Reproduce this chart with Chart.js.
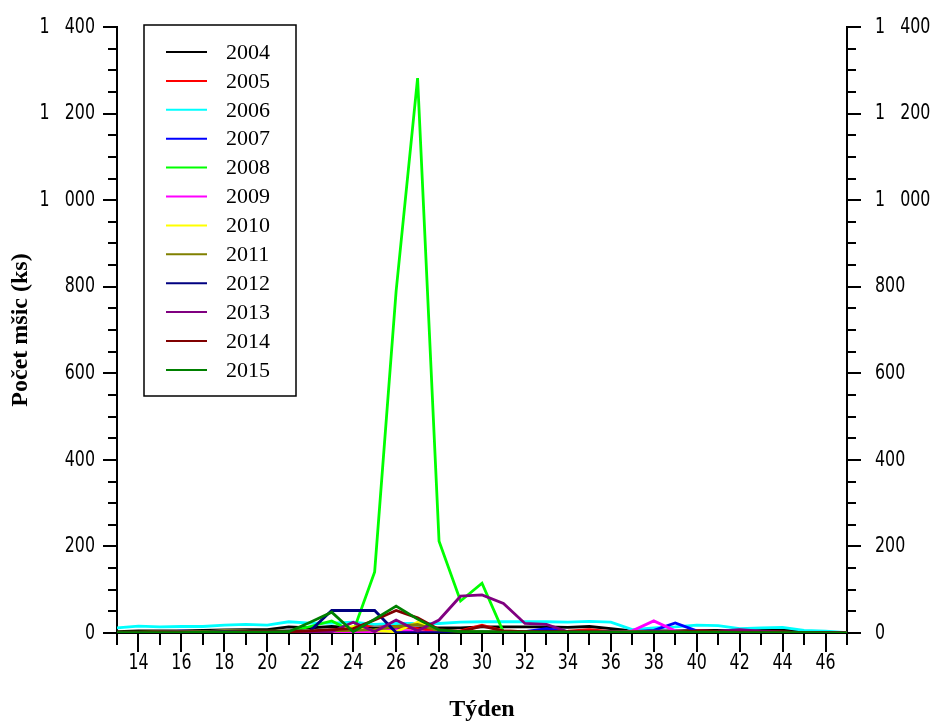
<!DOCTYPE html>
<html>
<head>
<meta charset="utf-8">
<title>Počet mšic</title>
<script src="https://cdn.jsdelivr.net/npm/chart.js@4.4.1/dist/chart.umd.min.js"></script>
<style>
  body { margin: 0; background: #fff; }
  canvas { display: block; }
</style>
</head>
<body>
<canvas id="myChart" width="931" height="724"></canvas>
<script>
// weeks 13..47
var weeks = [13,14,15,16,17,18,19,20,21,22,23,24,25,26,27,28,29,30,31,32,33,34,35,36,37,38,39,40,41,42,43,44,45,46,47];

var years = ["2004","2005","2006","2007","2008","2009","2010","2011","2012","2013","2014","2015"];
var colors = ["#000000","#ff0000","#00ffff","#0000ff","#00ff00","#ff00ff","#ffff00","#808000","#000080","#800080","#800000","#008000"];

var y2004 = [3,5,5,5,6,7,8,8,14,12,15,12,12,12,12,12,12,14,14,14,14,13,15,10,5,5,5,6,6,5,6,7,3,1,0];
var y2005 = [1,1,2,2,2,3,3,2,3,3,4,8,20,15,10,4,5,18,5,3,3,4,8,3,2,4,2,6,3,2,3,2,1,1,0];
var y2006 = [12,16,14,15,15,18,20,18,26,23,23,25,20,22,22,22,25,26,26,26,26,25,27,25,8,12,14,18,17,10,12,13,6,4,1];
var y2007 = [1,1,2,4,3,5,4,3,4,3,2,2,3,2,2,1,1,2,2,3,10,3,2,2,3,6,23,5,3,2,2,1,1,0,0];
var y2008 = [0,0,0,0,0,1,1,1,3,15,28,3,141,790,1282,212,74,115,2,1,1,1,1,1,1,1,1,1,1,1,1,1,0,0,0];
var y2009 = [1,1,1,1,2,2,1,2,2,2,2,3,3,8,2,2,1,1,1,1,1,1,1,1,5,28,5,2,1,1,1,1,1,0,0];
var y2010 = [1,1,1,2,3,5,4,2,2,2,5,15,5,3,25,5,2,2,1,1,1,1,1,1,1,2,1,1,1,1,1,1,0,0,0];
var y2011 = [2,2,3,3,3,4,4,4,5,5,5,6,8,15,20,5,3,3,3,3,3,3,3,3,3,4,3,3,3,3,2,2,1,1,0];
var y2012 = [1,1,2,2,2,3,3,3,4,5,52,52,52,1,1,1,1,2,2,2,4,2,1,1,1,2,2,1,1,1,1,1,0,0,0];
var y2013 = [1,1,1,1,1,2,2,2,2,2,3,25,3,30,5,30,85,88,68,22,20,3,2,3,2,3,2,2,4,8,4,2,1,1,0];
var y2014 = [1,1,2,2,2,2,3,3,3,5,8,10,30,52,35,8,3,16,5,3,3,3,3,2,2,2,2,5,3,2,2,2,1,1,0];
var y2015 = [1,1,1,1,2,2,2,2,3,25,48,3,32,62,32,7,3,3,2,2,2,2,2,2,2,2,2,2,2,1,1,1,1,0,0];

var series = [y2004,y2005,y2006,y2007,y2008,y2009,y2010,y2011,y2012,y2013,y2014,y2015];

var yTicks = [0,200,400,600,800,1000,1200,1400];

var titleFont = { family: '"Liberation Serif", "Times New Roman", serif', size: 24, weight: 'bold' };

function formatcount(v){
  if (v >= 1000) {
    return Math.floor(v / 1000) + "   " + String(v % 1000).padStart(3, "0");
  }
  return String(v);
}

function getdatasets(){
  var ds = [];
  for (var i = 0; i < years.length; i++) {
    ds.push({
      label: years[i],
      data: series[i],
      borderColor: colors[i],
      backgroundColor: colors[i],
      borderWidth: 2.8,
      pointRadius: 0,
      tension: 0,
      fill: false,
      order: years.length - i,   // later years on top
      yAxisID: 'y'
    });
  }
  return ds;
}

// narrow tick label text
function drawnarrow(ctx, text, x, y, align){
  ctx.save();
  ctx.translate(x, y);
  ctx.scale(0.72, 1);
  ctx.textAlign = align;
  ctx.textBaseline = 'middle';
  ctx.fillText(text, 0, 0);
  ctx.restore();
}

// tick marks and labels: long/short on x, major/minor on both y axes
var tickMarks = {
  id: 'tickMarks',
  afterDraw: function(chart){
    var ctx = chart.ctx;
    var x = chart.scales.x, y = chart.scales.y;
    var area = chart.chartArea;
    ctx.save();
    ctx.strokeStyle = '#000';
    ctx.lineWidth = 2;
    ctx.beginPath();
    for (var i = 0; i < weeks.length; i++) {
      var px = Math.round(x.getPixelForValue(i));
      var len = weeks[i] % 2 === 0 ? 19 : 12;
      ctx.moveTo(px, area.bottom);
      ctx.lineTo(px, area.bottom + len);
    }
    for (var v = 0; v <= 1400; v += 50) {
      var py = Math.round(y.getPixelForValue(v));
      var l = v % 200 === 0 ? 14 : 9;
      ctx.moveTo(area.left, py);
      ctx.lineTo(area.left - l, py);
      ctx.moveTo(area.right, py);
      ctx.lineTo(area.right + l, py);
    }
    ctx.stroke();

    ctx.fillStyle = '#000';
    ctx.font = '22px "DejaVu Sans", sans-serif';
    for (var j = 0; j < weeks.length; j++) {
      if (weeks[j] % 2 !== 0) continue;
      drawnarrow(ctx, String(weeks[j]), x.getPixelForValue(j), area.bottom + 30, 'center');
    }
    for (var k = 0; k < yTicks.length; k++) {
      var ty = y.getPixelForValue(yTicks[k]);
      drawnarrow(ctx, formatcount(yTicks[k]), area.left - 22, ty, 'right');
      drawnarrow(ctx, formatcount(yTicks[k]), area.right + 28, ty, 'left');
    }
    ctx.restore();
  }
};

// legend box in upper left of the plot
var legendBox = {
  id: 'legendBox',
  afterDraw: function(chart){
    var ctx = chart.ctx;
    var ds = chart.data.datasets;
    ctx.save();
    ctx.fillStyle = '#fff';
    ctx.fillRect(144, 25, 152, 371);
    ctx.strokeStyle = '#000';
    ctx.lineWidth = 1.5;
    ctx.strokeRect(144, 25, 152, 371);
    ctx.font = '22px "Liberation Serif", "Times New Roman", serif';
    ctx.textBaseline = 'middle';
    ctx.fillStyle = '#000';
    for (var i = 0; i < ds.length; i++) {
      var ry = 52 + i * 28.9;
      ctx.strokeStyle = ds[i].borderColor;
      ctx.lineWidth = 2;
      ctx.beginPath();
      ctx.moveTo(166, ry);
      ctx.lineTo(207, ry);
      ctx.stroke();
      ctx.fillText(ds[i].label, 226, ry + 1);
    }
    ctx.restore();
  }
};

function init(){
  var ctx = document.getElementById('myChart').getContext('2d');
  var myChart = new Chart(ctx, {
    type: 'line',
    data: {
      labels: weeks,
      datasets: getdatasets()
    },
    options: {
      responsive: false,
      animation: false,
      layout: { padding: { top: 27, left: 0, right: 0, bottom: 0 } },
      plugins: {
        legend: { display: false },
        tooltip: { enabled: false }
      },
      scales: {
        x: {
          type: 'category',
          offset: false,
          grid: { display: false, drawTicks: false },
          border: { color: '#000', width: 2 },
          ticks: { display: false },
          title: { display: true, text: 'Týden', color: '#000', font: titleFont, padding: { top: 0, bottom: 0 } },
          afterFit: function(s){ s.height = 91; }
        },
        y: {
          position: 'left',
          min: 0,
          max: 1400,
          grid: { display: false, drawTicks: false },
          border: { color: '#000', width: 2 },
          ticks: { display: false, stepSize: 200 },
          title: { display: true, text: 'Počet mšic (ks)', color: '#000', font: titleFont, padding: { top: 6, bottom: 0 } },
          afterFit: function(s){ s.width = 117; }
        },
        y2: {
          position: 'right',
          min: 0,
          max: 1400,
          grid: { display: false, drawTicks: false },
          border: { color: '#000', width: 2 },
          ticks: { display: false, stepSize: 200 },
          afterFit: function(s){ s.width = 84; }
        }
      }
    },
    plugins: [tickMarks, legendBox]
  });
}

init();
</script>
</body>
</html>
